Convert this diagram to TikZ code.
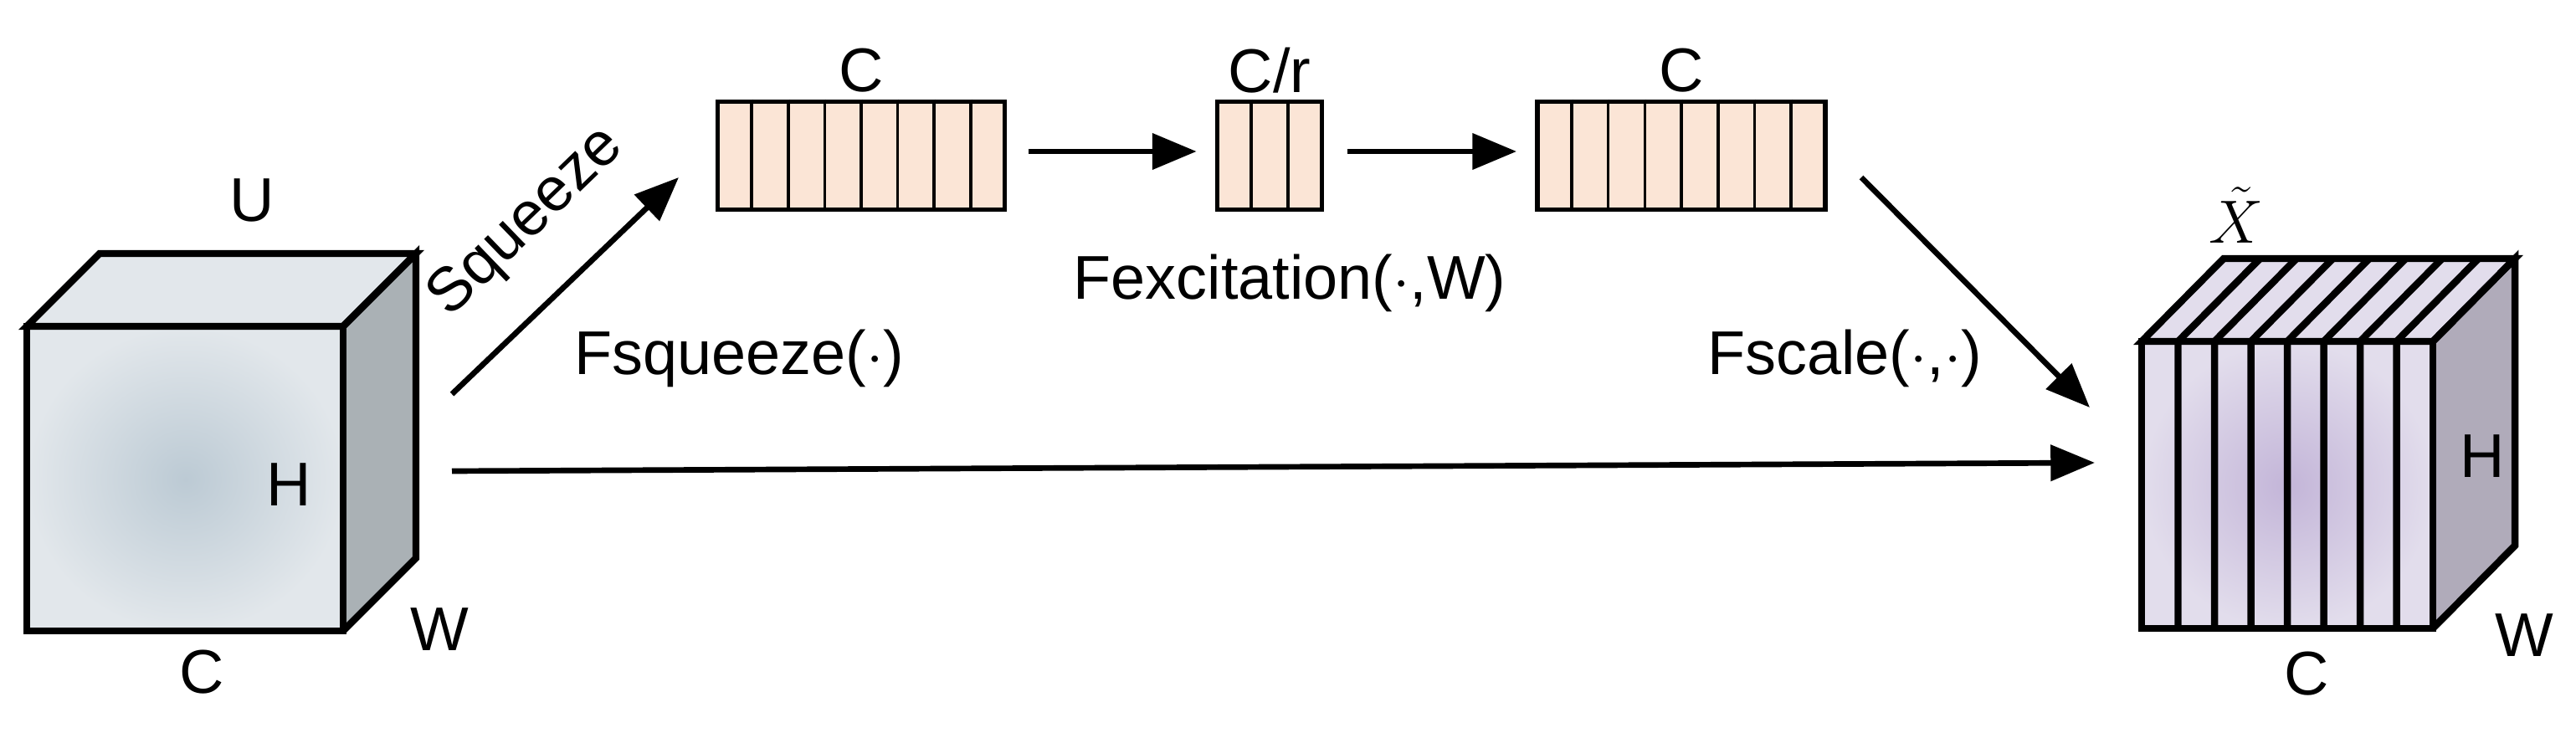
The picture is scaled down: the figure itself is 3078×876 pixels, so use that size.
\documentclass[tikz,border=0pt]{standalone}
\usepackage{fontspec}
\setmainfont{Liberation Sans}
\usetikzlibrary{arrows.meta,calc}
\definecolor{peach}{HTML}{FBE5D6}
\definecolor{cubeA}{HTML}{BCCAD4}
\definecolor{cubeAl}{HTML}{E2E7EB}
\definecolor{sideA}{HTML}{AAB1B5}
\definecolor{cubeB}{HTML}{C3B5D8}
\definecolor{cubeBl}{HTML}{E2DDEC}
\definecolor{sideB}{HTML}{B0ABBA}
\begin{document}
\begin{tikzpicture}[x=0.01cm,y=-0.01cm,
  lbl/.style={font=\fontsize{21}{24}\selectfont,inner sep=0pt},
  bar/.style={draw,line width=1.6pt,fill=peach,inner sep=0pt,minimum height=1.29cm},
  arr/.style={-{Triangle[length=15pt,width=12pt]},line width=1.9pt},
  edge/.style={line width=2.4pt,line join=miter}]
\useasboundingbox (0,0) rectangle (3078,876);
% input cube
\fill[cubeAl] (32,390) -- (119,303) -- (497,303) -- (410,390) -- cycle;
\fill[sideA] (410,390) -- (497,303) -- (497,667) -- (410,754) -- cycle;
\node[inner sep=0pt,minimum width=3.78cm,minimum height=3.64cm,inner color=cubeA,outer color=cubeAl,anchor=north west] (U) at (32,390) {};
\draw[edge] (32,390) -- (119,303) -- (497,303) -- (410,390) -- cycle;
\draw[edge] (410,390) -- (497,303) -- (497,667) -- (410,754);
\draw[edge] (32,390) rectangle (410,754);
\node[lbl] at (301,239) {U};
\node[lbl] at (345,579) {H};
\node[lbl] at (241,803) {C};
\node[lbl] at (525,752) {W};
% output cube
\fill[cubeBl] (2559,408) -- (2657,309) -- (3005,309) -- (2907,408) -- cycle;
\fill[sideB] (2907,408) -- (3005,309) -- (3005,652) -- (2907,751) -- cycle;
\node[inner sep=0pt,minimum width=3.48cm,minimum height=3.43cm,inner color=cubeB,outer color=cubeBl,anchor=north west] (X) at (2559,408) {};
\foreach \i in {1,...,7}
  \draw[edge] ({2559+\i*348/8},408) -- ({2559+\i*348/8},751)
              ({2559+\i*348/8},408) -- ({2657+\i*348/8},309);
\draw[edge] (2559,408) -- (2657,309) -- (3005,309) -- (2907,408) -- cycle;
\draw[edge] (2907,408) -- (3005,309) -- (3005,652) -- (2907,751);
\draw[edge] (2559,408) rectangle (2907,751);
\node[lbl] at (2672,257) {$\tilde{X}$};
\node[lbl] at (2966,545) {H};
\node[lbl] at (2756,805) {C};
\node[lbl] at (3016,759) {W};
% channel vectors
\node[bar,minimum width=3.43cm] (b1) at (1029,186) {};
\node[bar,minimum width=1.25cm] (b2) at (1517,186) {};
\node[bar,minimum width=3.44cm] (b3) at (2009,186) {};
\foreach \i in {1,...,7} {
  \draw[line width=1pt] ($(b1.north west)!{\i/8}!(b1.north east)$) -- ($(b1.south west)!{\i/8}!(b1.south east)$);
  \draw[line width=1pt] ($(b3.north west)!{\i/8}!(b3.north east)$) -- ($(b3.south west)!{\i/8}!(b3.south east)$);
}
\foreach \i in {1,2}
  \draw[line width=1pt] ($(b2.north west)!{\i/3}!(b2.north east)$) -- ($(b2.south west)!{\i/3}!(b2.south east)$);
\node[lbl] at (1029,84) {C};
\node[lbl] at (1517,84) {C/r};
\node[lbl] at (2009,84) {C};
% connectors
\coordinate (s0) at (540,471);
\coordinate (s1) at (811,212);
\coordinate (l0) at (540,563);
\coordinate (l1) at (2503,553);
\coordinate (c0) at (2224,212);
\coordinate (c1) at (2497,487);
\draw[arr] (s0) -- (s1);
\path (b1.east) ++(26,-5) coordinate (a0) (b2.west) ++(-22,-5) coordinate (a1);
\draw[arr] (a0) -- (a1);
\path (b2.east) ++(28,-5) coordinate (a2) (b3.west) ++(-22,-5) coordinate (a3);
\draw[arr] (a2) -- (a3);
\draw[arr] (c0) -- (c1);
\draw[arr] (l0) -- (l1);
\node[lbl,rotate=44] at (630,266) {Squeeze};
\node[lbl] at (883,428) {Fsqueeze($\cdot$)};
\node[lbl] at (1541,338) {Fexcitation($\cdot$,W)};
\node[lbl] at (2204,428) {Fscale($\cdot$,$\cdot$)};
\end{tikzpicture}
\end{document}
